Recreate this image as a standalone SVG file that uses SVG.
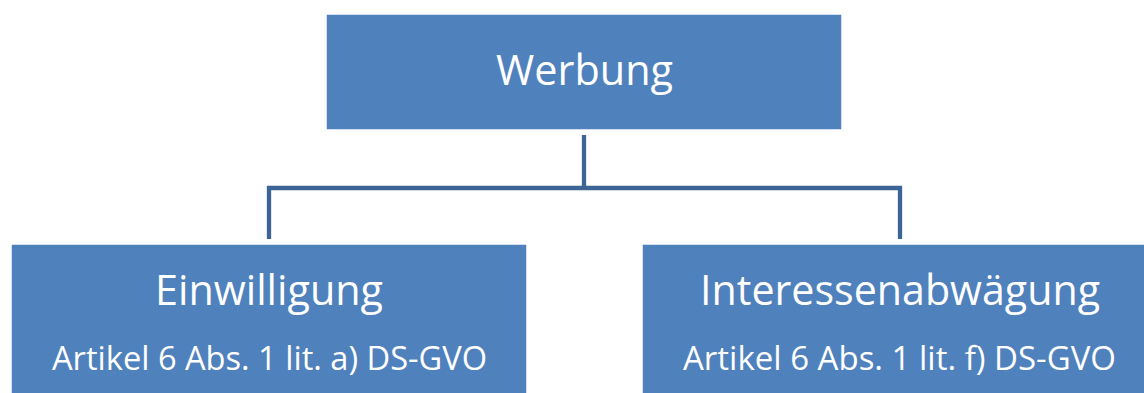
<svg xmlns="http://www.w3.org/2000/svg" width="1144" height="393" viewBox="0 0 1144 393">
<style>
.box{fill:#4F81BD;stroke:#FFFFFF;stroke-width:1.5}
.t1{font-family:"Open Sans","Noto Sans","Liberation Sans",sans-serif;font-size:42px;fill:#FFFFFF}
.t2{font-family:"Open Sans","Noto Sans","Liberation Sans",sans-serif;font-size:32.5px;fill:#FFFFFF}
.conn{fill:none;stroke:#3C6494;stroke-width:4.3;stroke-linejoin:miter;stroke-linecap:butt}
</style>
<rect x="0" y="0" width="1144" height="393" fill="#FFFFFF"/>
<g id="connectors">
<path class="conn" d="M584 135 V188"/>
<path class="conn" d="M269 239 V188 H900 V239"/>
</g>
<g id="werbung">
<rect class="box" x="326" y="14" width="516" height="116"/>
<text class="t1" x="496" y="85" textLength="177" lengthAdjust="spacingAndGlyphs">Werbung</text>
</g>
<g id="einwilligung">
<rect class="box" x="11" y="244" width="516" height="160"/>
<text class="t1" x="155" y="305" textLength="228" lengthAdjust="spacingAndGlyphs">Einwilligung</text>
<text class="t2" x="52" y="370" textLength="435" lengthAdjust="spacingAndGlyphs">Artikel 6 Abs. 1 lit. a) DS-GVO</text>
</g>
<g id="interessenabwaegung">
<rect class="box" x="642" y="244" width="516" height="160"/>
<text class="t1" x="700" y="305" textLength="400" lengthAdjust="spacingAndGlyphs">Interessenabwägung</text>
<text class="t2" x="683" y="370" textLength="433" lengthAdjust="spacingAndGlyphs">Artikel 6 Abs. 1 lit. f) DS-GVO</text>
</g>
</svg>
